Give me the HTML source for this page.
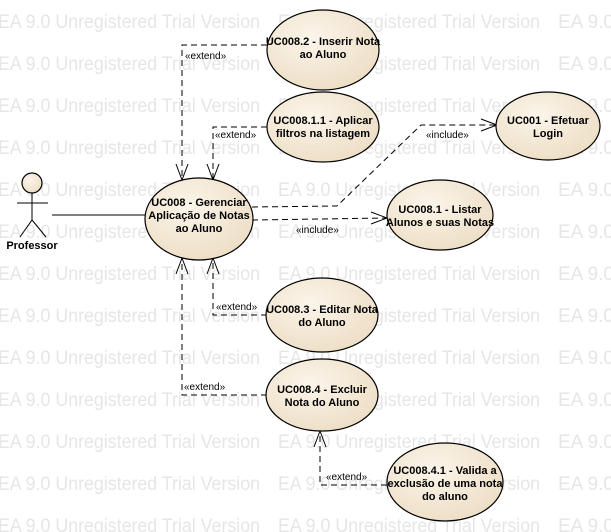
<!DOCTYPE html>
<html><head><meta charset="utf-8"><style>
html,body{margin:0;padding:0;background:#fff;}
svg{display:block;}
.wm{font-family:"Liberation Sans",sans-serif;font-size:19px;fill:#e6e6e6;}
.t{font-family:"Liberation Sans",sans-serif;font-size:11px;font-weight:bold;fill:#000;text-anchor:middle;}
.l{font-family:"Liberation Sans",sans-serif;font-size:10px;fill:#000;}
.d{fill:none;stroke:#000;stroke-width:1;stroke-dasharray:6,4;}
.a{fill:none;stroke:#000;stroke-width:1;}
.e{fill:url(#g);stroke:#000;stroke-width:1.2;}
</style></head><body>
<svg width="611" height="532" viewBox="0 0 611 532" xmlns="http://www.w3.org/2000/svg">
<defs><radialGradient id="g" cx="0.4" cy="0.35" r="0.75"><stop offset="0" stop-color="#fbf5ea"/><stop offset="1" stop-color="#ecdcc2"/></radialGradient>
</defs>
<g class="wm">
<text x="-2" y="28" textLength="262" lengthAdjust="spacingAndGlyphs">EA 9.0 Unregistered Trial Version</text><text x="278" y="28" textLength="262" lengthAdjust="spacingAndGlyphs">EA 9.0 Unregistered Trial Version</text><text x="558" y="28">EA 9.0</text>
<text x="-2" y="70" textLength="262" lengthAdjust="spacingAndGlyphs">EA 9.0 Unregistered Trial Version</text><text x="278" y="70" textLength="262" lengthAdjust="spacingAndGlyphs">EA 9.0 Unregistered Trial Version</text><text x="558" y="70">EA 9.0</text>
<text x="-2" y="112" textLength="262" lengthAdjust="spacingAndGlyphs">EA 9.0 Unregistered Trial Version</text><text x="278" y="112" textLength="262" lengthAdjust="spacingAndGlyphs">EA 9.0 Unregistered Trial Version</text><text x="558" y="112">EA 9.0</text>
<text x="-2" y="154" textLength="262" lengthAdjust="spacingAndGlyphs">EA 9.0 Unregistered Trial Version</text><text x="278" y="154" textLength="262" lengthAdjust="spacingAndGlyphs">EA 9.0 Unregistered Trial Version</text><text x="558" y="154">EA 9.0</text>
<text x="-2" y="196" textLength="262" lengthAdjust="spacingAndGlyphs">EA 9.0 Unregistered Trial Version</text><text x="278" y="196" textLength="262" lengthAdjust="spacingAndGlyphs">EA 9.0 Unregistered Trial Version</text><text x="558" y="196">EA 9.0</text>
<text x="-2" y="238" textLength="262" lengthAdjust="spacingAndGlyphs">EA 9.0 Unregistered Trial Version</text><text x="278" y="238" textLength="262" lengthAdjust="spacingAndGlyphs">EA 9.0 Unregistered Trial Version</text><text x="558" y="238">EA 9.0</text>
<text x="-2" y="280" textLength="262" lengthAdjust="spacingAndGlyphs">EA 9.0 Unregistered Trial Version</text><text x="278" y="280" textLength="262" lengthAdjust="spacingAndGlyphs">EA 9.0 Unregistered Trial Version</text><text x="558" y="280">EA 9.0</text>
<text x="-2" y="322" textLength="262" lengthAdjust="spacingAndGlyphs">EA 9.0 Unregistered Trial Version</text><text x="278" y="322" textLength="262" lengthAdjust="spacingAndGlyphs">EA 9.0 Unregistered Trial Version</text><text x="558" y="322">EA 9.0</text>
<text x="-2" y="364" textLength="262" lengthAdjust="spacingAndGlyphs">EA 9.0 Unregistered Trial Version</text><text x="278" y="364" textLength="262" lengthAdjust="spacingAndGlyphs">EA 9.0 Unregistered Trial Version</text><text x="558" y="364">EA 9.0</text>
<text x="-2" y="406" textLength="262" lengthAdjust="spacingAndGlyphs">EA 9.0 Unregistered Trial Version</text><text x="278" y="406" textLength="262" lengthAdjust="spacingAndGlyphs">EA 9.0 Unregistered Trial Version</text><text x="558" y="406">EA 9.0</text>
<text x="-2" y="448" textLength="262" lengthAdjust="spacingAndGlyphs">EA 9.0 Unregistered Trial Version</text><text x="278" y="448" textLength="262" lengthAdjust="spacingAndGlyphs">EA 9.0 Unregistered Trial Version</text><text x="558" y="448">EA 9.0</text>
<text x="-2" y="490" textLength="262" lengthAdjust="spacingAndGlyphs">EA 9.0 Unregistered Trial Version</text><text x="278" y="490" textLength="262" lengthAdjust="spacingAndGlyphs">EA 9.0 Unregistered Trial Version</text><text x="558" y="490">EA 9.0</text>
<text x="-2" y="532" textLength="262" lengthAdjust="spacingAndGlyphs">EA 9.0 Unregistered Trial Version</text><text x="278" y="532" textLength="262" lengthAdjust="spacingAndGlyphs">EA 9.0 Unregistered Trial Version</text><text x="558" y="532">EA 9.0</text>
</g>
<!-- connectors -->
<polyline class="d" points="267,45 182,45 182,180"/>
<polyline class="a" points="176,164 182,180 188,164"/>
<polyline class="d" points="267,127 213,127 213,180"/>
<polyline class="a" points="207,164 213,180 219,164"/>
<polyline class="d" points="252,207 337,206 421,125 497,125"/>
<polyline class="a" points="481,119 497,125 481,131"/>
<polyline class="d" points="252,220 387,218"/>
<polyline class="a" points="371,212 387,218 371,224"/>
<polyline class="d" points="267,315 213,315 213,258"/>
<polyline class="a" points="207,274 213,258 219,274"/>
<polyline class="d" points="267,395 182,395 182,258"/>
<polyline class="a" points="176,274 182,258 188,274"/>
<polyline class="d" points="387,485 320,485 320,431"/>
<polyline class="a" points="314,447 320,431 326,447"/>
<text class="l" x="185" y="59">«extend»</text>
<text class="l" x="215" y="138">«extend»</text>
<text class="l" x="426" y="138">«include»</text>
<text class="l" x="296" y="233">«include»</text>
<text class="l" x="216" y="310">«extend»</text>
<text class="l" x="184" y="390">«extend»</text>
<text class="l" x="326" y="480">«extend»</text>
<!-- actor -->
<line class="a" x1="52" y1="215" x2="145" y2="215"/>
<circle cx="32" cy="183" r="10" class="e"/>
<line class="a" x1="32" y1="193" x2="32" y2="220"/>
<line class="a" x1="17" y1="203" x2="48" y2="203"/>
<polyline class="a" points="20,237 32,220 46,237"/>
<text class="t" x="32" y="249">Professor</text>
<!-- ellipses -->
<ellipse class="e" cx="323" cy="50" rx="56" ry="40"/>
<text class="t" x="323" y="45">UC008.2 - Inserir Nota</text><text class="t" x="323" y="58">ao Aluno</text>
<ellipse class="e" cx="323" cy="127" rx="56" ry="35"/>
<text class="t" x="323" y="124">UC008.1.1 - Aplicar</text><text class="t" x="323" y="137">filtros na listagem</text>
<ellipse class="e" cx="199" cy="219" rx="54" ry="41"/>
<text class="t" x="199" y="206">UC008 - Gerenciar</text><text class="t" x="199" y="219">Aplicação de Notas</text><text class="t" x="199" y="232">ao Aluno</text>
<ellipse class="e" cx="548" cy="126" rx="52" ry="34"/>
<text class="t" x="548" y="124">UC001 - Efetuar</text><text class="t" x="548" y="137">Login</text>
<ellipse class="e" cx="440" cy="215" rx="53" ry="35"/>
<text class="t" x="440" y="213">UC008.1 - Listar</text><text class="t" x="440" y="226">Alunos e suas Notas</text>
<ellipse class="e" cx="322" cy="315" rx="56" ry="37"/>
<text class="t" x="322" y="313">UC008.3 - Editar Nota</text><text class="t" x="322" y="326">do Aluno</text>
<ellipse class="e" cx="322" cy="395" rx="56" ry="36"/>
<text class="t" x="322" y="393">UC008.4 - Excluir</text><text class="t" x="322" y="406">Nota do Aluno</text>
<ellipse class="e" cx="445" cy="482" rx="58" ry="39"/>
<text class="t" x="445" y="474">UC008.4.1 - Valida a</text><text class="t" x="445" y="487">exclusão de uma nota</text><text class="t" x="445" y="500">do aluno</text>
</svg>
</body></html>
